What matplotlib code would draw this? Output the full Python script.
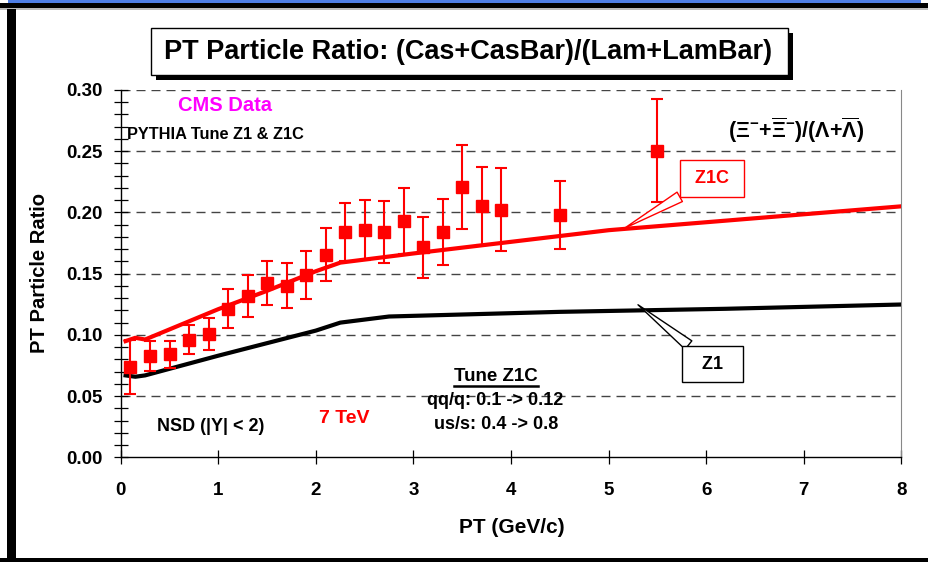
import matplotlib
matplotlib.use('Agg')
import matplotlib.pyplot as plt
from matplotlib.patches import Rectangle
from matplotlib.lines import Line2D
import numpy as np

plt.rcParams['font.family'] = ['Liberation Sans', 'DejaVu Sans']
plt.rcParams['font.weight'] = 'bold'
plt.rcParams['mathtext.fontset'] = 'custom'
plt.rcParams['mathtext.rm'] = 'Liberation Sans:bold'
plt.rcParams['mathtext.it'] = 'Liberation Sans:bold'
plt.rcParams['mathtext.bf'] = 'Liberation Sans:bold'

# CMS data points (pT bin centers, ratio, error)
pt = [0.1, 0.3, 0.5, 0.7, 0.9, 1.1, 1.3, 1.5, 1.7, 1.9, 2.1,
      2.3, 2.5, 2.7, 2.9, 3.1, 3.3, 3.5, 3.7, 3.9, 4.5, 5.5]
ratio = [0.0735, 0.0826, 0.084, 0.096, 0.1006, 0.1215, 0.1316, 0.1425, 0.1403, 0.149, 0.1656,
         0.184, 0.186, 0.184, 0.1933, 0.1715, 0.184, 0.2208, 0.2055, 0.2023, 0.198, 0.2504]
err = [0.022, 0.012, 0.011, 0.012, 0.013, 0.0157, 0.017, 0.018, 0.0187, 0.0195, 0.022,
       0.024, 0.0245, 0.025, 0.027, 0.025, 0.027, 0.034, 0.032, 0.034, 0.028, 0.042]

# PYTHIA Tune Z1C
z1c_x = [0.05, 0.15, 0.25, 1.0, 1.5, 2.0, 2.25, 3.0, 4.0, 5.0, 6.0, 7.0, 8.0]
z1c_y = [0.0949, 0.0976, 0.0962, 0.121, 0.136, 0.152, 0.159, 0.1665, 0.176, 0.1855, 0.192, 0.1985, 0.205]
# PYTHIA Tune Z1
z1_x = [0.05, 0.15, 0.25, 1.0, 2.0, 2.25, 2.75, 4.5, 6.2, 8.0]
z1_y = [0.0669, 0.0658, 0.0669, 0.083, 0.1035, 0.110, 0.115, 0.1188, 0.1213, 0.1248]

yticks = [0.00, 0.05, 0.10, 0.15, 0.20, 0.25, 0.30]
xticks = [0, 1, 2, 3, 4, 5, 6, 7, 8]

W, H = 929, 562
fig = plt.figure(figsize=(W / 100, H / 100), dpi=100)
ax = fig.add_axes([120.7 / W, 1 - 457.3 / H, 780.8 / W, 367.3 / H])

# outer frame
def frect(x, y, w, h, **kw):
    fig.add_artist(Rectangle((x / W, 1 - (y + h) / H), w / W, h / H,
                             transform=fig.transFigure, lw=0, **kw))

frect(8, 0, 913, 2.5, fc='#4f7fe6')
frect(0, 2.5, W, 6, fc='black')
frect(0, 8.5, W, 1, fc='#bbbbbb')
frect(7, 8.5, 8.5, H - 8.5, fc='black')
frect(0, 558, W, 4, fc='black')

# title box with shadow
frect(156, 33, 637, 47, fc='black')
fig.add_artist(Rectangle((151 / W, 1 - 75 / H), 637 / W, 47 / H, transform=fig.transFigure,
                         fc='white', ec='black', lw=1))
fig.text(468.5 / W, 1 - 52 / H, 'PT Particle Ratio: (Cas+CasBar)/(Lam+LamBar)',
         ha='center', va='center', fontsize=19.5, fontweight='bold')

# curves
ax.plot(z1_x, z1_y, color='black', lw=3, zorder=3)
ax.plot(z1c_x, z1c_y, color='red', lw=3, zorder=3)
ax.errorbar(pt, ratio, yerr=err, fmt='s', color='red', ms=8.5, elinewidth=1.5,
            capsize=4.5, capthick=1.5, zorder=4)

ax.set_xlim(0, 8)
ax.set_ylim(0, 0.30)
ax.set_xticks(xticks)
ax.set_yticks(yticks)
ax.set_yticks(np.arange(0, 0.301, 0.01), minor=True)
ax.set_yticklabels(['%.2f' % v for v in yticks])
ax.tick_params(axis='both', which='both', direction='inout', length=10, width=0.9,
               labelsize=13.5, colors='black')
ax.tick_params(axis='y', pad=8)
ax.tick_params(axis='x', pad=13)
for lab in ax.get_xticklabels() + ax.get_yticklabels():
    lab.set_fontweight('bold')

for v in yticks[1:]:
    ax.axhline(v, color='#444444', lw=1, dashes=(6.5, 4.3), zorder=1)

ax.spines['top'].set_visible(False)
ax.spines['right'].set_color('#888888')
ax.spines['left'].set_linewidth(1)
ax.spines['bottom'].set_linewidth(1)

ax.set_ylabel('PT Particle Ratio', fontsize=14.5, fontweight='bold', va='center')
ax.yaxis.set_label_coords(-0.104, 0.502)
ax.set_xlabel('PT (GeV/c)', fontsize=15, fontweight='bold', va='center')
ax.xaxis.set_label_coords(0.501, -0.19)

# annotations
ax.text(1.069, 0.287, 'CMS Data', color='#ff00ff', fontsize=14.5, ha='center', va='center')
ax.text(0.065, 0.2637, 'PYTHIA Tune Z1 & Z1C', color='black', fontsize=11.8, ha='left', va='center')
ax.text(6.92, 0.2674, r'$(\Xi^{-}{+}\overline{\Xi}^{-})/(\Lambda{+}\overline{\Lambda})$',
        fontsize=15.5, ha='center', va='center')
tune = ax.text(3.845, 0.066, 'Tune Z1C', fontsize=13.5, ha='center', va='center')
ax.text(3.84, 0.0468, 'qq/q: 0.1 -> 0.12', fontsize=13, ha='center', va='center')
ax.text(3.85, 0.0268, 'us/s: 0.4 -> 0.8', fontsize=13, ha='center', va='center')
ax.text(2.293, 0.0317, '7 TeV', color='red', fontsize=14, ha='center', va='center')
ax.text(0.92, 0.0252, 'NSD (|Y| < 2)', fontsize=13, ha='center', va='center')

ax.annotate(' Z1C ', xy=(5.16, 0.187), xytext=(6.06, 0.2278), ha='center', va='center',
            color='red', fontsize=13,
            bbox=dict(boxstyle='square,pad=0.55', fc='white', ec='red', lw=1),
            arrowprops=dict(arrowstyle='wedge,tail_width=0.6,shrink_factor=0.5',
                            fc='white', ec='red', lw=1, shrinkA=0, shrinkB=0),
            zorder=5)
ax.annotate('  Z1  ', xy=(5.30, 0.1246), xytext=(6.06, 0.0762), ha='center', va='center',
            color='black', fontsize=13,
            bbox=dict(boxstyle='square,pad=0.55', fc='white', ec='black', lw=1),
            arrowprops=dict(arrowstyle='wedge,tail_width=0.6,shrink_factor=0.5',
                            fc='white', ec='black', lw=1, shrinkA=0, shrinkB=0),
            zorder=5)

# underline for "Tune Z1C"
fig.canvas.draw()
bb = tune.get_window_extent().transformed(fig.transFigure.inverted())
fig.add_artist(Line2D([bb.x0, bb.x1], [bb.y0 - 0.001, bb.y0 - 0.001],
                      transform=fig.transFigure, color='black', lw=1.8))

fig.savefig('out.png', dpi=100)
